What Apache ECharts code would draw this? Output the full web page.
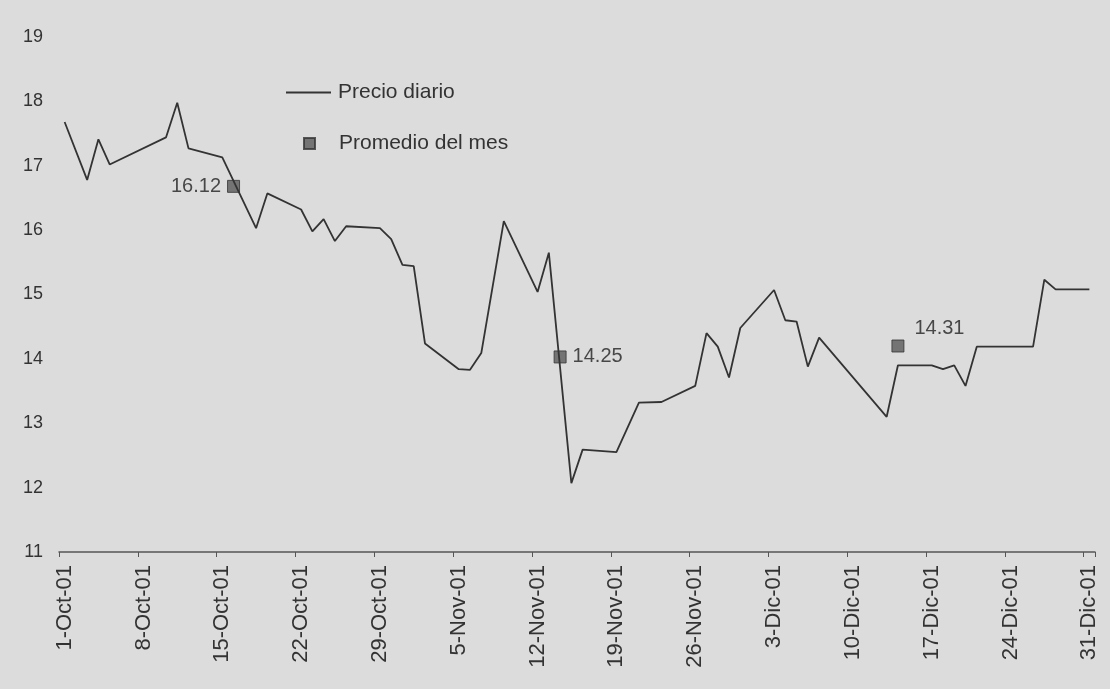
<!DOCTYPE html>
<html>
<head>
<meta charset="utf-8">
<script src="https://cdn.jsdelivr.net/npm/echarts@6/dist/echarts.min.js"></script>
<style>
  html, body { margin: 0; padding: 0; background: #dcdcdc; }
  #pic { width: 1110px; height: 689px; }
</style>
</head>
<body>
<div id="pic"></div>
<script>
// daily category axis, Oct-Dec 2001 (Spanish month names)
var monthNames = ['Oct', 'Nov', 'Dic'];
var monthDays = [31, 30, 31];
var days = [];
for (var m = 0; m < monthNames.length; m++) {
  for (var d = 1; d <= monthDays[m]; d++) {
    days.push(d + '-' + monthNames[m] + '-01');
  }
}

// Precio diario (only trading days)
var priceDates = [
  '1-Oct-01', '3-Oct-01', '4-Oct-01', '5-Oct-01', '10-Oct-01', '11-Oct-01', '12-Oct-01',
  '15-Oct-01', '18-Oct-01', '19-Oct-01', '22-Oct-01', '23-Oct-01', '24-Oct-01', '25-Oct-01',
  '26-Oct-01', '29-Oct-01', '30-Oct-01', '31-Oct-01', '1-Nov-01', '2-Nov-01', '5-Nov-01',
  '6-Nov-01', '7-Nov-01', '9-Nov-01', '12-Nov-01', '13-Nov-01', '15-Nov-01', '16-Nov-01',
  '19-Nov-01', '21-Nov-01', '23-Nov-01', '26-Nov-01', '27-Nov-01', '28-Nov-01', '29-Nov-01',
  '30-Nov-01', '3-Dic-01', '4-Dic-01', '5-Dic-01', '6-Dic-01', '7-Dic-01', '13-Dic-01',
  '14-Dic-01', '17-Dic-01', '18-Dic-01', '19-Dic-01', '20-Dic-01', '21-Dic-01', '26-Dic-01',
  '27-Dic-01', '28-Dic-01', '31-Dic-01'
];
var priceValues = [
  17.68, 16.78, 17.41, 17.02, 17.44, 17.98, 17.27,
  17.13, 16.03, 16.57, 16.32, 15.98, 16.17, 15.83,
  16.06, 16.03, 15.86, 15.46, 15.44, 14.24, 13.84,
  13.83, 14.09, 16.14, 15.04, 15.65, 12.07, 12.59,
  12.55, 13.32, 13.33, 13.58, 14.40, 14.19, 13.71,
  14.48, 15.07, 14.60, 14.58, 13.88, 14.33, 13.10,
  13.90, 13.90, 13.84, 13.90, 13.58, 14.19, 14.19,
  15.23, 15.08, 15.08
];

// Promedio del mes: plotted height as drawn, and the printed label
var avgDates = ['16-Oct-01', '14-Nov-01', '14-Dic-01'];
var avgValues = [16.68, 14.03, 14.20];
var avgLabels = ['16.12', '14.25', '14.31'];

var yTicks = [11, 12, 13, 14, 15, 16, 17, 18, 19];

var chart = echarts.init(document.getElementById('pic'));

var priceData = [];
for (var i = 0; i < priceDates.length; i++) {
  priceData.push([priceDates[i], priceValues[i]]);
}
var labelPos = ['left', 'right', [23, -21]];
var avgData = [];
for (var j = 0; j < avgDates.length; j++) {
  avgData.push({
    value: [avgDates[j], avgValues[j]],
    label: { position: labelPos[j], formatter: avgLabels[j] }
  });
}

var font = 'Liberation Sans, Arial, sans-serif';

var option = {
  backgroundColor: '#dcdcdc',
  animation: false,
  textStyle: { fontFamily: font },
  grid: {
    left: 59,
    right: 15,
    top: 37,
    bottom: 137,
    containLabel: false,
    outerBoundsMode: 'none'
  },
  legend: [
    {
      left: 286,
      top: 82,
      padding: 0,
      itemWidth: 45,
      itemHeight: 2,
      textStyle: { color: '#333', fontSize: 21, padding: [0, 0, 0, 2] },
      data: [{ name: 'Precio diario', icon: 'rect' }]
    },
    {
      left: 303,
      top: 133,
      padding: 0,
      itemWidth: 11,
      itemHeight: 11,
      textStyle: { color: '#333', fontSize: 21, padding: [0, 0, 0, 19] },
      data: [{ name: 'Promedio del mes', icon: 'rect' }]
    }
  ],
  xAxis: {
    type: 'category',
    data: days,
    boundaryGap: true,
    axisLine: { show: true, lineStyle: { color: '#555', width: 1.5 } },
    axisTick: { show: true, interval: 6, length: 5, lineStyle: { color: '#555' } },
    axisLabel: {
      interval: 6,
      rotate: 90,
      margin: 13,
      color: '#333',
      fontSize: 22
    },
    splitLine: { show: false }
  },
  yAxis: {
    type: 'value',
    min: yTicks[0],
    max: yTicks[yTicks.length - 1],
    interval: 1,
    axisLine: { show: false },
    axisTick: { show: false },
    splitLine: { show: false },
    axisLabel: { color: '#333', fontSize: 18, margin: 16 }
  },
  series: [
    {
      name: 'Precio diario',
      type: 'line',
      data: priceData,
      symbol: 'none',
      lineStyle: { color: '#333', width: 1.8 },
      itemStyle: { color: '#333' }
    },
    {
      name: 'Promedio del mes',
      type: 'scatter',
      data: avgData,
      symbol: 'rect',
      symbolSize: 12,
      itemStyle: { color: '#5a5a5a', borderColor: '#333', borderWidth: 1 },
      label: {
        show: true,
        color: '#222',
        fontSize: 20,
        distance: 6
      }
    }
  ]
};
chart.setOption(option);
</script>
</body>
</html>
